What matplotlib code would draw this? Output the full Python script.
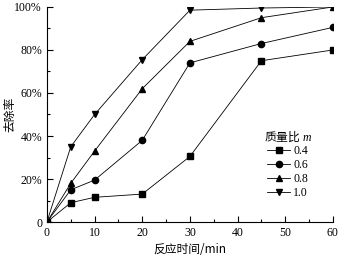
import matplotlib
matplotlib.use("Agg")
import matplotlib.pyplot as plt
from matplotlib.ticker import MultipleLocator, FuncFormatter

plt.rcParams['font.family'] = ['Liberation Serif', 'Noto Sans CJK SC']
plt.rcParams['mathtext.fontset'] = 'custom'
plt.rcParams['mathtext.it'] = 'Liberation Serif:italic'
plt.rcParams['mathtext.rm'] = 'Liberation Serif'

time = [0, 5, 10, 20, 30, 45, 60]
labels = ['0.4', '0.6', '0.8', '1.0']
markers = ['s', 'o', '^', 'v']
r04 = [0, 9, 11.5, 13, 30.5, 75, 80]
r06 = [0, 15, 19.5, 38, 74, 83, 90.5]
r08 = [0, 18, 33, 62, 84, 95, 100]
r10 = [0, 35, 50, 75.5, 98.5, 99.5, 100]
series = [r04, r06, r08, r10]

fig = plt.figure(figsize=(3.45, 2.57), dpi=100)
ax = fig.add_axes([0.136, 0.136, 0.829, 0.837])
for y, lab, mk in zip(series, labels, markers):
    ax.plot(time, y, color='black', lw=0.6, marker=mk, ms=4.5, label=lab)

ax.set_xlim(0, 60)
ax.set_ylim(0, 100)
ax.xaxis.set_major_locator(MultipleLocator(10))
ax.xaxis.set_minor_locator(MultipleLocator(5))
ax.yaxis.set_major_locator(MultipleLocator(20))
ax.yaxis.set_minor_locator(MultipleLocator(10))
ax.yaxis.set_major_formatter(FuncFormatter(lambda v, p: '0' if v == 0 else f'{int(v)}%'))
ax.tick_params(which='both', direction='in', labelsize=8.5, width=0.8)
ax.tick_params(which='major', length=4)
ax.tick_params(which='minor', length=2)
for s in ['top', 'right']:
    ax.spines[s].set_visible(False)
cjk = ['Noto Sans CJK SC', 'Liberation Serif']
ax.set_xlabel('反应时间/min', fontsize=8.5, labelpad=3, family=cjk)
ax.set_ylabel('去除率', fontsize=8.5, family=cjk)
ax.yaxis.set_label_coords(-0.108, 0.5)
leg = ax.legend(title='质量比 $m$', loc='lower right', bbox_to_anchor=(0.955, 0.07),
                frameon=False, fontsize=8.5, title_fontsize=8.5, handlelength=1.9,
                labelspacing=0.15, borderpad=0.2, handletextpad=0.3)
leg.get_title().set_family(cjk)
fig.savefig('out.png', dpi=100)
